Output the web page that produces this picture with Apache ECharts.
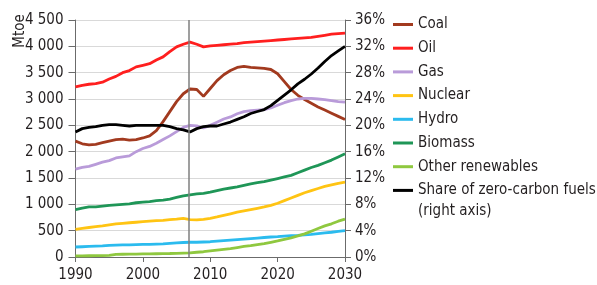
<!DOCTYPE html>
<html>
<head>
<meta charset="utf-8">
<script src="https://cdn.jsdelivr.net/npm/echarts@6/dist/echarts.min.js"></script>
<style>
  html, body { margin: 0; padding: 0; background: #fff; }
  #chart { width: 597px; height: 285px; }
</style>
</head>
<body>
<div id="chart"></div>
<script>
const years = [];
for (let y = 1990; y <= 2030; y++) years.push(y);

const coal = [2200, 2150, 2130, 2140, 2170, 2200, 2230, 2240, 2220, 2230, 2260, 2300, 2400, 2570, 2760, 2950, 3100, 3190, 3180, 3050, 3200, 3350, 3460, 3540, 3600, 3620, 3600, 3590, 3580, 3560, 3480, 3330, 3180, 3070, 2990, 2920, 2850, 2790, 2730, 2670, 2610];
const oil = [3230, 3260, 3280, 3290, 3320, 3380, 3430, 3500, 3540, 3610, 3640, 3670, 3740, 3800, 3900, 3990, 4040, 4080, 4040, 3990, 4010, 4020, 4030, 4040, 4050, 4070, 4080, 4090, 4100, 4110, 4120, 4130, 4140, 4150, 4160, 4170, 4190, 4210, 4230, 4240, 4250];
const gas = [1670, 1700, 1720, 1760, 1800, 1830, 1880, 1900, 1920, 2000, 2060, 2100, 2160, 2230, 2300, 2380, 2460, 2500, 2490, 2450, 2500, 2560, 2620, 2660, 2720, 2760, 2780, 2790, 2800, 2830, 2880, 2930, 2970, 3000, 3010, 3010, 3000, 2990, 2970, 2950, 2940];
const nuclear = [525, 545, 560, 575, 590, 610, 630, 640, 650, 660, 670, 680, 690, 695, 710, 720, 735, 710, 705, 715, 735, 760, 790, 820, 850, 875, 900, 925, 950, 980, 1020, 1070, 1120, 1170, 1220, 1260, 1300, 1340, 1370, 1400, 1420];
const hydro = [190, 195, 200, 205, 210, 220, 225, 230, 230, 235, 240, 240, 245, 250, 260, 270, 275, 280, 280, 285, 290, 300, 310, 320, 330, 340, 350, 360, 370, 380, 385, 395, 405, 410, 420, 430, 445, 460, 470, 485, 500];
const biomass = [900, 930, 950, 950, 965, 980, 990, 1000, 1010, 1030, 1040, 1050, 1070, 1080, 1100, 1130, 1160, 1180, 1200, 1210, 1230, 1260, 1290, 1310, 1330, 1360, 1390, 1410, 1430, 1460, 1490, 1520, 1550, 1600, 1650, 1700, 1740, 1790, 1840, 1900, 1960];
const otherRenewables = [20, 22, 24, 26, 28, 30, 50, 52, 54, 56, 58, 60, 62, 64, 66, 70, 75, 80, 90, 100, 115, 130, 145, 160, 180, 200, 215, 235, 255, 280, 305, 335, 365, 400, 440, 490, 540, 590, 630, 680, 720];
const zeroCarbonShare = [19.0, 19.5, 19.7, 19.8, 20.0, 20.1, 20.1, 20.0, 19.9, 20.0, 20.0, 20.0, 20.0, 20.0, 19.8, 19.5, 19.3, 19.0, 19.5, 19.8, 19.9, 19.9, 20.2, 20.5, 20.9, 21.3, 21.8, 22.1, 22.4, 23.0, 23.8, 24.6, 25.4, 26.3, 27.0, 27.8, 28.7, 29.7, 30.6, 31.3, 32.0];
const markerYear = 2006.75;

const FONT = "'DejaVu Sans Condensed', 'DejaVu Sans', sans-serif";
const TEXT = "#231f20";

const pairs = arr => arr.map((v, i) => [years[i], v]);
const thousands = v => v >= 1000 ? `${Math.floor(v / 1000)} ${String(v % 1000).padStart(3, "0")}` : String(v);

const mk = (name, data, color, axis = 0) => ({
  name,
  type: "line",
  yAxisIndex: axis,
  data: pairs(data),
  showSymbol: false,
  symbol: "none",
  lineStyle: { color, width: 2.8 },
  itemStyle: { color },
  animation: false
});

const series = [
  mk("Coal", coal, "#a23a1f"),
  mk("Oil", oil, "#ff1f1f"),
  mk("Gas", gas, "#b99bd9"),
  mk("Nuclear", nuclear, "#ffc413"),
  mk("Hydro", hydro, "#2bbbee"),
  mk("Biomass", biomass, "#1f9657"),
  mk("Other renewables", otherRenewables, "#8fc83f"),
  mk("Share of zero-carbon fuels", zeroCarbonShare, "#000000", 1)
];
series[0].markLine = {
  silent: true,
  symbol: "none",
  label: { show: false },
  lineStyle: { color: "#7f7f7f", width: 1.5, type: "solid" },
  data: [{ xAxis: markerYear }]
};

const chart = echarts.init(document.getElementById("chart"));
chart.setOption({
  animation: false,
  textStyle: { fontFamily: FONT },
  grid: { left: 75.5, right: 252, top: 20, bottom: 28 },
  xAxis: {
    type: "value",
    min: 1990, max: 2030, interval: 10,
    axisLine: { show: true, lineStyle: { color: "#6b6b6b", width: 1 } },
    axisTick: { show: true, length: 5, lineStyle: { color: "#6b6b6b" } },
    splitLine: { show: false },
    axisLabel: { color: TEXT, fontSize: 15, fontFamily: FONT, margin: 11, formatter: v => String(v) }
  },
  yAxis: [{
    type: "value",
    min: 0, max: 4500, interval: 500,
    axisLine: { show: true, lineStyle: { color: "#6b6b6b", width: 1 } },
    axisTick: { show: true, length: 7, lineStyle: { color: "#6b6b6b" } },
    splitLine: { show: true, lineStyle: { color: "#d9d9d9", width: 1 } },
    axisLabel: { color: TEXT, fontSize: 15, fontFamily: FONT, margin: 12, formatter: thousands }
  }, {
    type: "value",
    min: 0, max: 36, interval: 4,
    position: "right",
    axisLine: { show: true, lineStyle: { color: "#6b6b6b", width: 1 } },
    axisTick: { show: true, length: 6, lineStyle: { color: "#6b6b6b" } },
    splitLine: { show: false },
    axisLabel: { color: TEXT, fontSize: 15, fontFamily: FONT, margin: 10, formatter: "{value}%" }
  }],
  legend: {
    orient: "vertical",
    left: 393, top: 17,
    padding: 0,
    itemWidth: 20, itemHeight: 3,
    itemGap: 8.7,
    icon: "rect",
    textStyle: { color: TEXT, fontSize: 15, fontFamily: FONT, lineHeight: 15 },
    data: series.map(s => s.name)
  },
  graphic: [
    { type: "text", left: 418, top: 204, style: { text: "(right axis)", fill: TEXT, font: `15px ${FONT}` } },
    { type: "text", x: 20, y: 31, rotation: Math.PI / 2, style: { text: "Mtoe", fill: TEXT, font: `15px ${FONT}`, align: "center", verticalAlign: "middle" } }
  ],
  series
});
</script>
</body>
</html>
